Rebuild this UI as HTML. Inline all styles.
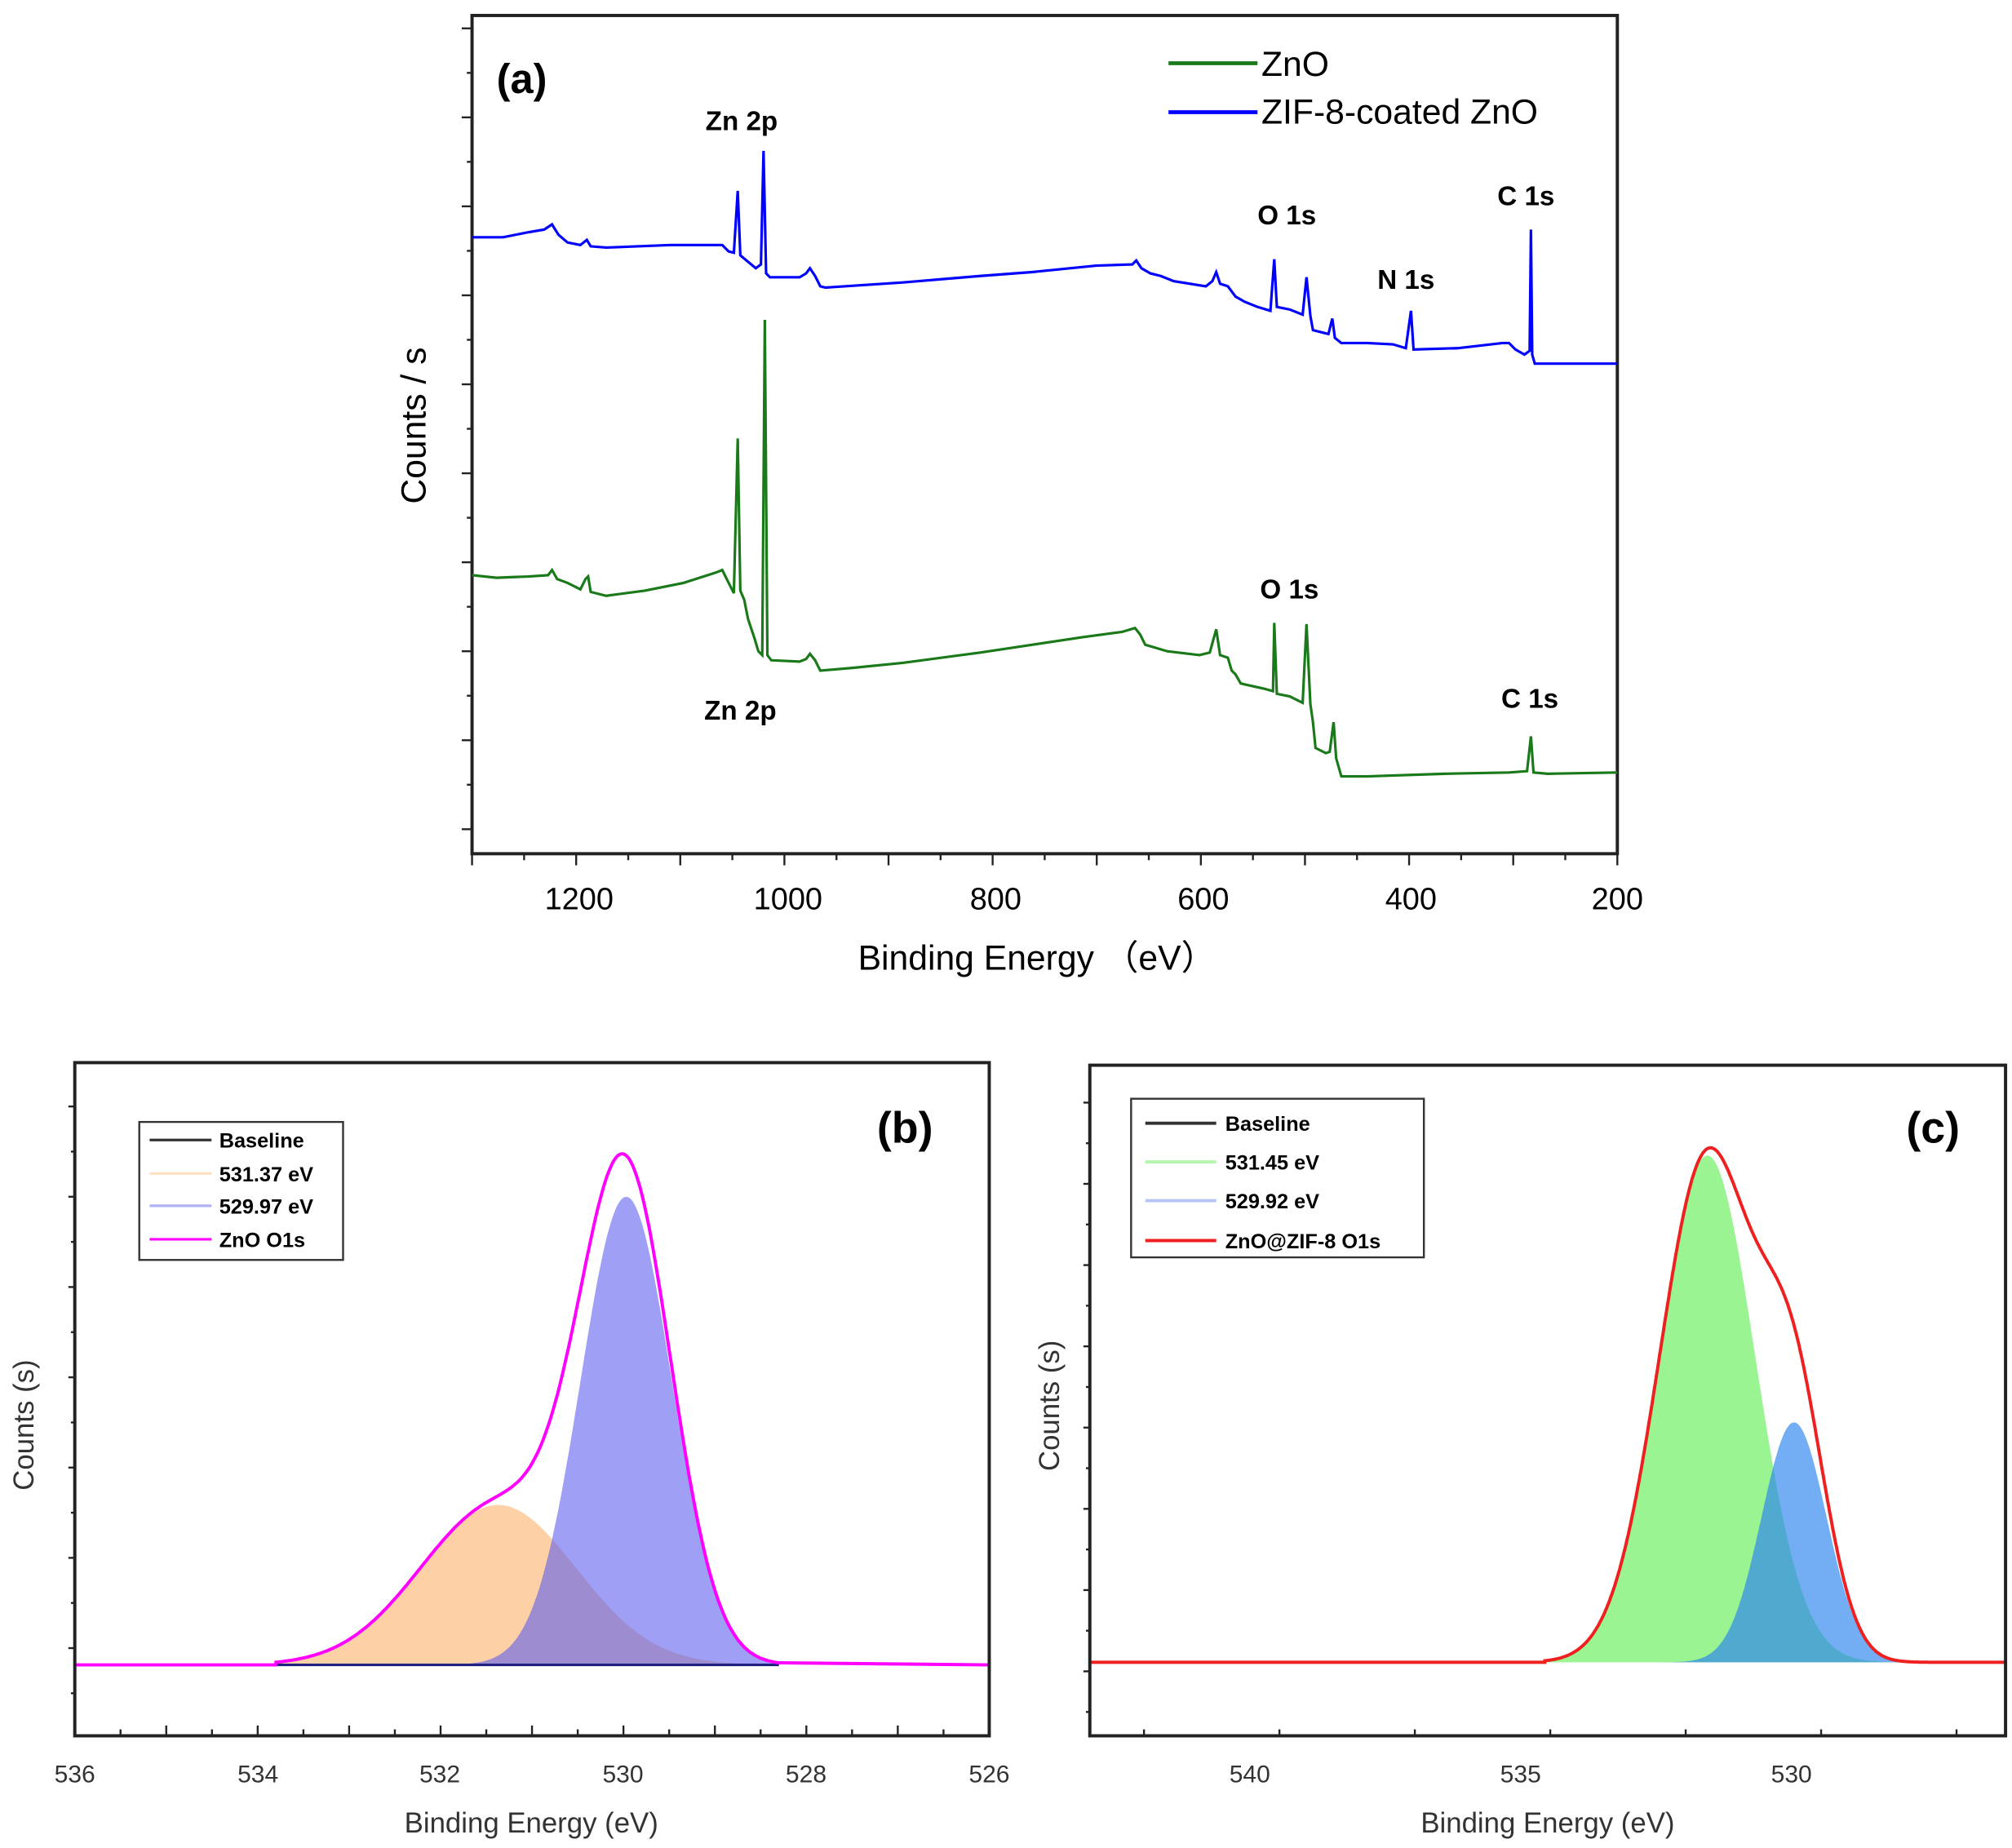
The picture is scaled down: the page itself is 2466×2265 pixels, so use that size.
<!DOCTYPE html>
<html><head><meta charset="utf-8"><style>
html,body{margin:0;padding:0;background:#fff;}
svg{display:block;}
text{font-family:"Liberation Sans",sans-serif;}
</style></head><body>
<svg id="s" width="2466" height="2265" viewBox="0 0 1560 1433" preserveAspectRatio="none" xmlns="http://www.w3.org/2000/svg">
<rect width="1560" height="1433" fill="#fff"/>
<g id="pa">
<rect x="366" y="12" width="888" height="650" fill="none" stroke="#222" stroke-width="2.5"/>
<g id="aticks" stroke="#222" stroke-width="1.5"></g>
<polyline id="blue" fill="none" stroke="#0000ff" stroke-width="2" points="366,184 390,184 410,180 422,178 428,174 433,182 440,188 450,190 455,186 458,191 470,192 520,190 560,190 565,195 569,196 572,148 574,198 586,208 590,205 592,117 594,212 597,215 620,215 625,212 628,208 632,214 636,222 640,223 700,219 760,214 800,211 850,206 878,205 881,202 885,208 892,212 900,214 910,218 935,222 940,218 943,211 946,220 952,222 958,230 965,234 975,238 985,241 988,201 990,238 1000,240 1010,244 1013,215 1016,245 1018,256 1026,258 1030,259 1033,247 1035,262 1040,266 1060,266 1080,267 1090,270 1094,241 1096,271 1130,270 1165,266 1170,266 1175,271 1182,275 1186,272 1187,178 1188,275 1190,282 1254,282"/>
<polyline id="green" fill="none" stroke="#1a7a1a" stroke-width="2" points="366,446 385,448 410,447 425,446 428,442 432,449 440,452 450,457 454,449 456,447 458,459 470,462 500,458 530,452 555,444 560,442 564,450 569,460 572,340 574,458 577,465 580,480 585,495 588,505 591,508 593,248 595,508 598,512 620,513 625,511 628,507 632,512 636,520 660,518 700,514 760,506 800,500 840,494 870,490 880,487 884,492 888,500 895,502 905,505 930,508 938,506 943,488 946,508 952,510 955,520 958,523 962,530 980,534 987,536 988,483 990,538 1000,540 1010,545 1013,484 1016,546 1018,560 1020,580 1028,584 1031,583 1034,560 1036,588 1040,602 1060,602 1120,600 1170,599 1184,598 1187,571 1189,599 1200,600 1254,599"/>
<line x1="906" y1="49" x2="975" y2="49" stroke="#1a7a1a" stroke-width="3"/>
<line x1="906" y1="87" x2="975" y2="87" stroke="#0000ff" stroke-width="3"/>
<text x="978" y="59" font-size="27">ZnO</text>
<text x="978" y="96" font-size="27">ZIF-8-coated ZnO</text>
<text x="385" y="72" font-size="32" font-weight="bold">(a)</text>
<g font-size="21" font-weight="bold">
<text x="547" y="101">Zn 2p</text>
<text x="975" y="174">O 1s</text>
<text x="1068" y="224">N 1s</text>
<text x="1161" y="159">C 1s</text>
<text x="977" y="464">O 1s</text>
<text x="546" y="558">Zn 2p</text>
<text x="1164" y="549">C 1s</text>
</g>
<g font-size="24" text-anchor="middle">
<text x="449" y="705">1200</text><text x="611" y="705">1000</text><text x="772" y="705">800</text>
<text x="933" y="705">600</text><text x="1094" y="705">400</text><text x="1254" y="705">200</text>
</g>
<text x="804" y="752" font-size="27" text-anchor="middle">Binding Energy （eV）</text>
<text transform="translate(330,330) rotate(-90)" font-size="27" text-anchor="middle">Counts / s</text>
</g>
<g>
<g id="bfill"></g>
<rect x="58" y="824" width="709" height="522" fill="none" stroke="#222" stroke-width="2.5"/>
<g id="bticks" stroke="#222" stroke-width="1.5"></g>
<rect x="108" y="870" width="158" height="107" fill="#fff" stroke="#333" stroke-width="1.5"/>
<line x1="116" y1="884" x2="164" y2="884" stroke="#333" stroke-width="2"/>
<line x1="116" y1="910" x2="164" y2="910" stroke="#fde0c0" stroke-width="2"/>
<line x1="116" y1="935" x2="164" y2="935" stroke="#b0b0f5" stroke-width="2"/>
<line x1="116" y1="961" x2="164" y2="961" stroke="#ff00ff" stroke-width="2"/>
<g font-size="16" font-weight="bold"><text x="170" y="890">Baseline</text><text x="170" y="916">531.37 eV</text><text x="170" y="941">529.97 eV</text><text x="170" y="967">ZnO O1s</text></g>
<text x="680" y="886" font-size="34" font-weight="bold">(b)</text>
<g font-size="19" text-anchor="middle" fill="#333">
<text x="58" y="1382">536</text><text x="200" y="1382">534</text><text x="341" y="1382">532</text><text x="483" y="1382">530</text><text x="625" y="1382">528</text><text x="767" y="1382">526</text>
</g>
<text x="412" y="1421" font-size="22" text-anchor="middle" fill="#333">Binding Energy (eV)</text>
<text transform="translate(26,1105) rotate(-90)" font-size="22" text-anchor="middle" fill="#333">Counts (s)</text>
</g>
<g>
<g id="cfill"></g>
<rect x="845" y="826" width="710" height="520" fill="none" stroke="#222" stroke-width="2.5"/>
<g id="cticks" stroke="#222" stroke-width="1.5"></g>
<rect x="877" y="852" width="227" height="123" fill="#fff" stroke="#333" stroke-width="1.5"/>
<line x1="888" y1="871" x2="943" y2="871" stroke="#333" stroke-width="2.5"/>
<line x1="888" y1="901" x2="943" y2="901" stroke="#b5f5b0" stroke-width="2.5"/>
<line x1="888" y1="931" x2="943" y2="931" stroke="#b5c5f5" stroke-width="2.5"/>
<line x1="888" y1="962" x2="943" y2="962" stroke="#ee2020" stroke-width="2.5"/>
<g font-size="16" font-weight="bold"><text x="950" y="877">Baseline</text><text x="950" y="907">531.45 eV</text><text x="950" y="937">529.92 eV</text><text x="950" y="968">ZnO@ZIF-8 O1s</text></g>
<text x="1478" y="886" font-size="34" font-weight="bold">(c)</text>
<g font-size="19" text-anchor="middle" fill="#333">
<text x="969" y="1382">540</text><text x="1179" y="1382">535</text><text x="1389" y="1382">530</text>
</g>
<text x="1200" y="1421" font-size="22" text-anchor="middle" fill="#333">Binding Energy (eV)</text>
<text transform="translate(821,1090) rotate(-90)" font-size="22" text-anchor="middle" fill="#333">Counts (s)</text>
</g>
</svg>
<script>
var NS="http://www.w3.org/2000/svg";
function el(p,t,a){var e=document.createElementNS(NS,t);for(var k in a)e.setAttribute(k,a[k]);document.getElementById(p).appendChild(e);return e;}
function g(E,c,h,s){return h*Math.exp(-(E-c)*(E-c)/(2*s*s));}
for(var i=0;i<=22;i++){var x=366+i*888/22;var L=(i%2==0)?9:5;el("aticks","line",{x1:x,y1:662,x2:x,y2:662+L});}
for(var y=12;y<=662;y+=34.5){var maj=Math.round((y-12)/34.5)%2==0;el("aticks","line",{x1:366,y1:y+10,x2:366-(maj?8:4),y2:y+10});}
function bx(E){return 58+(536-E)*70.9;}
var bb=1291;
var lo=533.8,hi=528.3;
var pts=[];for(var E=lo;E>=hi-0.001;E-=0.02)pts.push(E);
function poly(f,X,base){var s="M"+X(pts[0])+","+base;pts.forEach(function(E){s+=" L"+X(E).toFixed(1)+","+(base-f(E)).toFixed(1);});s+=" L"+X(pts[pts.length-1])+","+base+"Z";return s;}
var fo=function(E){return g(E,531.37,124,0.85);}, fb=function(E){return g(E,529.97,363,0.5);};
el("bfill","path",{d:poly(fo,bx,bb),fill:"rgba(252,180,110,0.62)"});
el("bfill","path",{d:poly(fb,bx,bb),fill:"rgba(90,90,240,0.58)"});
var d="M58,"+bb+" L"+bx(lo)+","+bb;pts.forEach(function(E){d+=" L"+bx(E).toFixed(1)+","+(bb-fo(E)-fb(E)).toFixed(1);});d+=" L767,"+bb;
el("bfill","line",{x1:bx(lo),y1:bb,x2:bx(hi),y2:bb,stroke:"#202080","stroke-width":2});
el("bfill","path",{d:d,fill:"none",stroke:"#ff00ff","stroke-width":2.5});
for(var i=0;i<=20;i++){var x=58+i*709/20;el("bticks","line",{x1:x,y1:1346,x2:x,y2:1346-((i%2==0)?8:5)});}
for(var y=858;y<1346;y+=35){el("bticks","line",{x1:58,y1:y,x2:58-(Math.round((y-858)/35)%2==0?5:3),y2:y});}
function cx(E){return 845+(543-E)*42;}
var cb=1289;lo=534.6;hi=527.4;pts=[];for(var E=lo;E>=hi-0.001;E-=0.02)pts.push(E);
var fg=function(E){return g(E,531.6,393,0.88);}, fc=function(E){return g(E,530.0,186,0.6);};
el("cfill","path",{d:poly(fg,cx,cb),fill:"rgba(120,240,110,0.75)"});
el("cfill","path",{d:poly(fc,cx,cb),fill:"rgba(40,130,240,0.65)"});
d="M845,"+cb+" L"+cx(lo)+","+cb;pts.forEach(function(E){d+=" L"+cx(E).toFixed(1)+","+(cb-fg(E)-fc(E)).toFixed(1);});d+=" L1555,"+cb;
el("cfill","path",{d:d,fill:"none",stroke:"#ee2020","stroke-width":2.5});
for(var E=542;E>=527;E-=2.5){var x=cx(E);el("cticks","line",{x1:x,y1:1346,x2:x,y2:1346-((Math.abs((E%5))<0.01)?8:5)});}
for(var y=855;y<1346;y+=31.5){el("cticks","line",{x1:845,y1:y,x2:845-(Math.round((y-855)/31.5)%2==0?5:3),y2:y});}
</script>
</body></html>
